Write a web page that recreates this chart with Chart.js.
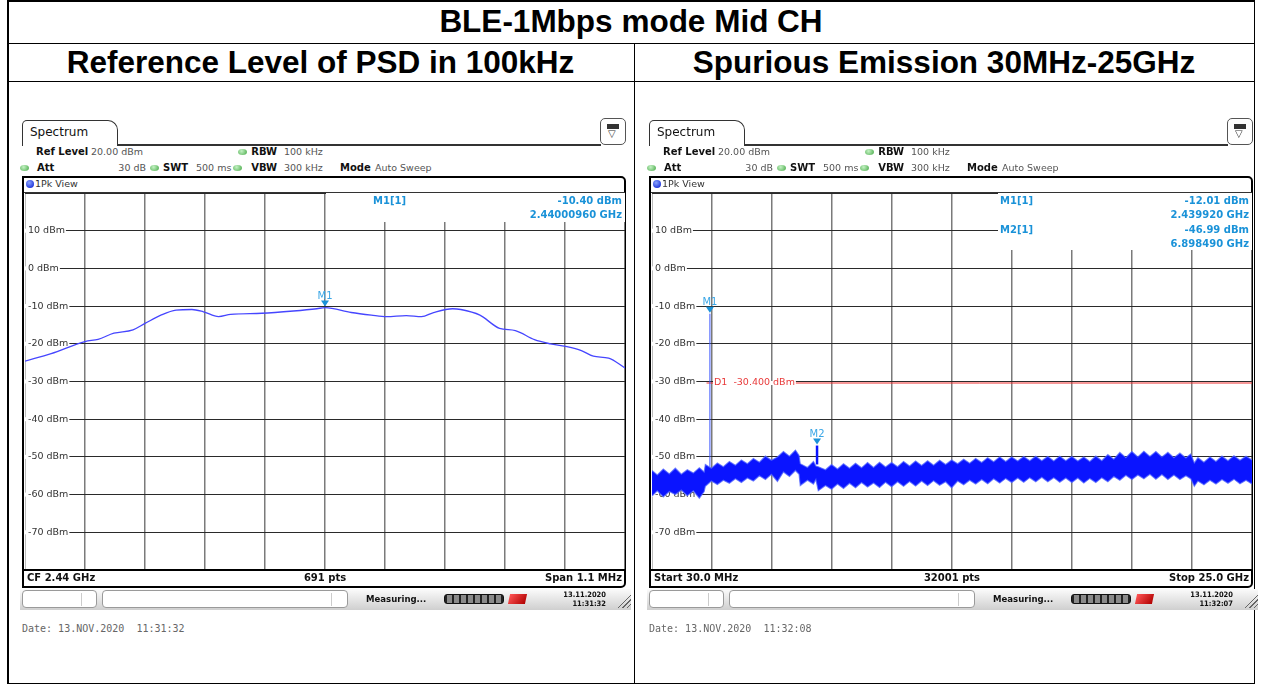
<!DOCTYPE html>
<html>
<head>
<meta charset="utf-8">
<script src="https://cdn.jsdelivr.net/npm/chart.js@4.4.1/dist/chart.umd.min.js"></script>
<style>
  body { margin: 0; background: #fff; }
  #page { position: relative; width: 1261px; height: 684px; overflow: hidden; font-family: "DejaVu Sans", Verdana, sans-serif; }
  .ln { position: absolute; background: #000; }
  .ttl { position: absolute; font-family: "Liberation Sans", Arial, sans-serif; font-weight: bold; font-size: 31.5px; line-height: 36px; text-align: center; color: #000; }
  .panel { position: absolute; top: 0; width: 640px; height: 684px; }
  .t { position: absolute; white-space: nowrap; font-size: 9.5px; line-height: 12px; color: #555; }
  .b { font-weight: bold; color: #111; font-size: 10px; }
  .tab { position: absolute; left: 22px; top: 120px; width: 96px; height: 26px; box-sizing: border-box; border: 1.5px solid #333; border-bottom: none; border-radius: 5px 10px 0 0; font-size: 12px; line-height: 22px; padding-left: 7px; color: #111; }
  .tabline { position: absolute; left: 117px; top: 144px; width: 484px; height: 1.5px; background: #333; }
  .icon { position: absolute; left: 600px; top: 118px; width: 26px; height: 27px; box-sizing: border-box; border: 1px solid #555; border-radius: 5px; }
  .icon i { position: absolute; left: 6px; top: 5px; width: 12px; height: 5px; background: #333; border: 1px solid #333; box-sizing: border-box; }
  .icon span { position: absolute; left: 7px; top: 10px; font-size: 10px; line-height: 10px; color: #333; }
  .gdot { position: absolute; width: 9px; height: 6px; border-radius: 50%; background: radial-gradient(circle at 40% 35%, #c4f2c4, #45a845); }
  .frame { position: absolute; left: 22px; top: 176px; width: 604px; height: 412px; box-sizing: border-box; border: 2px solid #000; border-radius: 0 5px 5px 0; }
  .bdot { position: absolute; left: 26px; top: 180px; width: 8px; height: 8px; border-radius: 50%; background: radial-gradient(circle at 40% 35%, #8aa4ff, #0014d0); }
  canvas { position: absolute; left: 25px; top: 193px; }
  .status { position: absolute; left: 20px; top: 589px; width: 611px; height: 21px; background: linear-gradient(#fbfbfb, #cfcfcf); }
  .sbox { position: absolute; top: 1px; height: 18px; box-sizing: border-box; background: #fff; border: 1px solid #9a9a9a; border-radius: 4px; }
  .sbox i { position: absolute; top: 2px; width: 1px; height: 13px; background: #ccc; }
  .prog { position: absolute; left: 424px; top: 5px; width: 60px; height: 10px; border-radius: 3px; background: repeating-linear-gradient(90deg, #222 0 2px, #8a8a8a 2px 7px); border: 1.5px solid #111; box-sizing: border-box; }
  .red { position: absolute; left: 489px; top: 5px; width: 17px; height: 10px; background: linear-gradient(120deg, #ff5555, #b00000); transform: skewX(-12deg); }
  .clk { position: absolute; left: 540px; top: 1px; width: 46px; font-family: "DejaVu Sans Condensed", "DejaVu Sans", sans-serif; font-weight: bold; font-size: 7.5px; line-height: 9px; text-align: right; color: #111; }
  .hatch { position: absolute; left: 597px; top: 4px; width: 14px; height: 15px; background: repeating-linear-gradient(135deg, transparent 0 2px, #666 2px 3px); clip-path: polygon(100% 0, 100% 100%, 0 100%); }
  .meas { position: absolute; left: 346px; top: 4px; font-family: "DejaVu Sans Condensed", "DejaVu Sans", sans-serif; font-weight: bold; font-size: 9.5px; line-height: 12px; color: #111; }
  .date { position: absolute; left: 22px; top: 623px; font-family: "DejaVu Sans Mono", monospace; font-size: 10px; line-height: 12px; color: #666; white-space: pre; }
</style>
</head>
<body>
<div id="page">
  <div class="ln" style="left:7px;top:0;width:1248px;height:1.5px"></div>
  <div class="ln" style="left:7px;top:42.5px;width:1248px;height:1.5px"></div>
  <div class="ln" style="left:7px;top:80.5px;width:1248px;height:1.5px"></div>
  <div class="ln" style="left:7px;top:682.5px;width:1248px;height:1.5px"></div>
  <div class="ln" style="left:7px;top:0;width:1.5px;height:684px"></div>
  <div class="ln" style="left:1253.5px;top:0;width:1.5px;height:684px"></div>
  <div class="ln" style="left:633.5px;top:43px;width:1.5px;height:641px"></div>
  <div class="ttl" style="left:7px;top:3px;width:1248px">BLE-1Mbps mode Mid CH</div>
  <div class="ttl" style="left:7px;top:44px;width:627px">Reference Level of PSD in 100kHz</div>
  <div class="ttl" style="left:634px;top:44px;width:620px">Spurious Emission 30MHz-25GHz</div>
  <div class="panel" id="p1" style="left:0"></div>
  <div class="panel" id="p2" style="left:627px"></div>
</div>
<script>
// 공통 축 (dBm)
const levelTicks = [20, 10, 0, -10, -20, -30, -40, -50, -60, -70, -80];
const levelLabelVals = [10, 0, -10, -20, -30, -40, -50, -60, -70];
const levelLabels = ["10 dBm", "0 dBm", "-10 dBm", "-20 dBm", "-30 dBm", "-40 dBm", "-50 dBm", "-60 dBm", "-70 dBm"];

// 왼쪽: PSD 100kHz, CF 2.44 GHz, span 1.1 MHz (x = CF 기준 kHz)
const psdTicksX = [-550, -440, -330, -220, -110, 0, 110, 220, 330, 440, 550];
const psdOffsetKHz = [-550, -502, -440, -416, -387, -352, -330, -301, -273, -244, -223, -195, -173, -116, -58, -15, 0, 48, 85, 113, 149, 177, 199, 234, 249, 284, 320, 349, 384, 413, 441, 470, 492, 520, 550];
const psdLevel = [-24.6, -22.6, -19.4, -18.8, -17.2, -16.3, -14.6, -12.4, -11.05, -10.9, -11.5, -12.8, -12.2, -11.9, -11.3, -10.7, -10.4, -11.7, -12.4, -12.8, -12.5, -12.8, -11.7, -10.7, -10.9, -12.4, -15.9, -16.5, -18.9, -20.0, -20.7, -21.8, -23.3, -23.8, -26.4];
const psdMarkerX = [0];
const psdMarkerY = [-10.40];

// 오른쪽: spurious 30 MHz ~ 25 GHz (x = GHz), 노이즈 밴드 위/아래 외곽
const spurTicksX = [0.03, 2.527, 5.024, 7.521, 10.018, 12.515, 15.012, 17.509, 20.006, 22.503, 25.0];
const spurFreq = [
  0.03, 0.25, 0.5, 0.75, 1.0, 1.25, 1.5, 1.75, 2.0, 2.2,
  2.25, 2.5, 2.75, 3.0, 3.25, 3.5, 3.75, 4.0, 4.25, 4.5,
  4.75, 5.0, 5.25, 5.5, 5.75, 6.0, 6.15, 6.2, 6.5, 6.75,
  6.85, 6.95, 7.25, 7.5, 7.75, 8.0, 8.25, 8.5, 8.75, 9.0,
  9.25, 9.5, 9.75, 10.0, 10.25, 10.5, 10.75, 11.0, 11.25, 11.5,
  11.75, 12.0, 12.25, 12.5, 12.75, 13.0, 13.25, 13.5, 13.75, 14.0,
  14.25, 14.5, 14.75, 15.0, 15.25, 15.5, 15.75, 16.0, 16.25, 16.5,
  16.75, 17.0, 17.25, 17.5, 17.75, 18.0, 18.25, 18.5, 18.75, 19.0,
  19.25, 19.5, 19.75, 20.0, 20.25, 20.5, 20.75, 21.0, 21.25, 21.5,
  21.75, 22.0, 22.25, 22.45, 22.6, 22.75, 23.0, 23.25, 23.5, 23.75,
  24.0, 24.25, 24.5, 24.75, 25.0];
const spurHigh = [
  -53.6, -54.8, -53.2, -54.5, -53.0, -54.6, -53.4, -54.3, -52.9, -54.0,
  -52.0, -53.0, -51.6, -52.6, -51.2, -52.2, -50.8, -51.8, -50.4, -51.4,
  -49.8, -50.9, -50.0, -48.6, -49.8, -48.2, -49.6, -51.8, -52.8, -51.2,
  -52.4, -52.6, -53.4, -52.0, -53.2, -51.8, -53.0, -51.7, -52.9, -51.5,
  -52.8, -51.4, -52.7, -51.5, -52.6, -51.2, -52.4, -51.1, -52.3, -51.0,
  -52.2, -50.9, -52.0, -50.8, -51.8, -50.6, -51.7, -50.4, -51.5, -50.2,
  -51.3, -50.0, -51.2, -50.0, -51.1, -49.9, -51.0, -49.8, -51.0, -49.9,
  -51.1, -49.8, -51.0, -49.9, -51.1, -50.0, -51.2, -49.8, -51.0, -49.4,
  -50.6, -48.8, -50.2, -48.6, -50.0, -48.5, -49.9, -48.6, -50.0, -48.8,
  -50.2, -49.0, -50.3, -49.2, -51.6, -50.2, -51.4, -50.0, -51.2, -49.8,
  -51.0, -49.7, -50.9, -49.8, -50.8];
const spurLow = [
  -60.4, -59.0, -60.6, -59.2, -60.0, -58.8, -60.3, -59.0, -61.0, -59.2,
  -57.8, -56.4, -57.3, -56.2, -57.0, -55.8, -56.8, -55.6, -56.4, -55.0,
  -56.0, -54.6, -56.5, -54.0, -55.2, -53.6, -54.6, -57.6, -56.2, -57.2,
  -56.0, -59.0, -57.6, -58.6, -57.2, -58.4, -57.0, -58.2, -56.8, -58.0,
  -56.9, -58.1, -56.7, -57.9, -56.6, -57.8, -56.5, -57.7, -56.4, -57.6,
  -56.3, -57.5, -56.6, -58.2, -56.4, -57.4, -56.2, -57.2, -56.0, -57.1,
  -55.8, -56.9, -55.7, -56.8, -55.6, -56.7, -55.5, -56.6, -55.4, -56.6,
  -55.5, -56.7, -55.6, -56.8, -55.6, -56.9, -55.7, -56.8, -55.5, -56.6,
  -55.2, -56.2, -54.9, -56.0, -54.8, -55.8, -54.6, -55.9, -54.7, -56.0,
  -54.8, -56.0, -55.0, -55.8, -57.8, -56.4, -57.4, -56.2, -57.2, -56.0,
  -57.0, -55.9, -57.1, -56.2, -57.2];
const spurMarkerX = [2.43992, 6.89849];
const spurMarkerY = [-12.01, -46.99];
const spikeBase = [-56.5, -52.0];
const d1Level = -30.4;
const d1Range = [2.3, 25.0];

function panelHtml(p) {
  return `
  <div class="tab">Spectrum</div><div class="tabline"></div>
  <div class="icon"><i></i><span>&#9661;</span></div>
  <div class="t b" style="left:36px;top:146px">Ref Level</div>
  <div class="t" style="left:91px;top:146px">20.00 dBm</div>
  <div class="gdot" style="left:238px;top:149px"></div>
  <div class="t b" style="left:227px;top:146px;width:50px;text-align:right">RBW</div>
  <div class="t" style="left:284px;top:146px">100 kHz</div>
  <div class="gdot" style="left:20px;top:165px"></div>
  <div class="t b" style="left:37px;top:162px">Att</div>
  <div class="t" style="left:100px;top:162px;width:46px;text-align:right">30 dB</div>
  <div class="gdot" style="left:150px;top:165px"></div>
  <div class="t b" style="left:163px;top:162px">SWT</div>
  <div class="t" style="left:196px;top:162px">500 ms</div>
  <div class="gdot" style="left:233px;top:165px"></div>
  <div class="t b" style="left:227px;top:162px;width:50px;text-align:right">VBW</div>
  <div class="t" style="left:284px;top:162px">300 kHz</div>
  <div class="t b" style="left:340px;top:162px">Mode</div>
  <div class="t" style="left:375px;top:162px">Auto Sweep</div>
  <div class="frame"></div>
  <div class="bdot"></div>
  <div class="t" style="left:35px;top:178px;color:#333">1Pk View</div>
  <div class="ln" style="left:24px;top:192px;width:601px;height:1px;background:#333"></div>
  <canvas id="${p.id}" width="600" height="377"></canvas>
  <div class="ln" style="left:24px;top:569px;width:601px;height:2px"></div>
  <div class="t b" style="left:27px;top:572px">${p.left}</div>
  <div class="t b" style="left:225px;top:572px;width:200px;text-align:center">${p.mid}</div>
  <div class="t b" style="left:422px;top:572px;width:200px;text-align:right">${p.right}</div>
  <div class="status">
    <div class="sbox" style="left:2px;width:75px"><i style="left:58px"></i></div>
    <div class="sbox" style="left:82px;width:246px"><i style="left:228px"></i></div>
    <div class="meas">Measuring...</div>
    <div class="prog"></div><div class="red"></div>
    <div class="clk">${p.clkDate}<br>${p.clkTime}</div>
    <div class="hatch"></div>
  </div>
  <div class="date">Date: ${p.date}</div>`;
}

document.getElementById("p1").innerHTML = panelHtml({ id: "psdChart", left: "CF 2.44 GHz", mid: "691 pts", right: "Span 1.1 MHz", clkDate: "13.11.2020", clkTime: "11:31:32", date: "13.NOV.2020  11:31:32" });
document.getElementById("p2").innerHTML = panelHtml({ id: "spurChart", left: "Start 30.0 MHz", mid: "32001 pts", right: "Stop 25.0 GHz", clkDate: "13.11.2020", clkTime: "11:32:07", date: "13.NOV.2020  11:32:08" });

const markerBlue = "#1a92d8";

// 격자 위에 라벨/마커 정보, 데이터 위에 마커 삼각형
const decoPlugin = {
  id: "deco",
  beforeDatasetsDraw(chart, args, o) {
    const ctx = chart.ctx;
    const ys = chart.scales.y;
    ctx.save();
    ctx.fillStyle = "#fff";
    ctx.fillRect(o.infoBox[0], o.infoBox[1], o.infoBox[2], o.infoBox[3]);
    ctx.font = "9.5px 'DejaVu Sans'";
    ctx.textBaseline = "middle";
    levelLabels.forEach((txt, i) => {
      const py = ys.getPixelForValue(levelLabelVals[i]);
      const w = ctx.measureText(txt).width;
      ctx.fillStyle = "#fff";
      ctx.fillRect(0, py - 2, w + 4, 4);
      ctx.fillStyle = "#333";
      ctx.fillText(txt, 3, py);
    });
    ctx.font = "bold 10px 'DejaVu Sans'";
    ctx.fillStyle = markerBlue;
    o.info.forEach((row) => {
      ctx.textAlign = "left";
      if (row[0]) ctx.fillText(row[0], 348, row[2]);
      ctx.textAlign = "right";
      ctx.fillText(row[1], 597, row[2]);
    });
    ctx.restore();
  },
  afterDatasetsDraw(chart, args, o) {
    const ctx = chart.ctx;
    const xs = chart.scales.x;
    const ys = chart.scales.y;
    ctx.save();
    if (o.d1) {
      const py = ys.getPixelForValue(d1Level);
      ctx.font = "9.5px 'DejaVu Sans'";
      ctx.textBaseline = "middle";
      const txt = "D1  -30.400 dBm";
      const w = ctx.measureText(txt).width;
      ctx.fillStyle = "#fff";
      ctx.fillRect(61, py - 2, w + 2, 4);
      ctx.fillStyle = "#e83a3a";
      ctx.fillText(txt, 62, py);
    }
    o.mx.forEach((mx, i) => {
      const px = xs.getPixelForValue(mx);
      const py = ys.getPixelForValue(o.my[i]);
      ctx.fillStyle = markerBlue;
      ctx.beginPath();
      ctx.moveTo(px, py - 1);
      ctx.lineTo(px - 4, py - 7);
      ctx.lineTo(px + 4, py - 7);
      ctx.closePath();
      ctx.fill();
      ctx.fillStyle = "#3aa6e6";
      ctx.font = "10px 'DejaVu Sans'";
      ctx.textAlign = "center";
      ctx.textBaseline = "alphabetic";
      ctx.fillText("M" + (i + 1), px, py - 9);
    });
    ctx.restore();
  },
};

function makeChart(id, datasets, xTicks, deco) {
  return new Chart(document.getElementById(id).getContext("2d"), {
    type: "line",
    data: { datasets: datasets },
    options: {
      responsive: false,
      animation: false,
      events: [],
      layout: { padding: 0 },
      elements: { point: { radius: 0 } },
      plugins: { legend: { display: false }, tooltip: { enabled: false }, deco: deco },
      scales: {
        x: {
          type: "linear",
          min: xTicks[0],
          max: xTicks[xTicks.length - 1],
          afterBuildTicks: (ax) => { ax.ticks = xTicks.map((v) => ({ value: v })); },
          ticks: { display: false },
          grid: { color: "#7a7a7a", lineWidth: 1.5, drawTicks: false },
          border: { display: false },
        },
        y: {
          min: -80,
          max: 20,
          afterBuildTicks: (ax) => { ax.ticks = levelTicks.map((v) => ({ value: v })); },
          ticks: { display: false },
          grid: { color: "#2a2a2a", lineWidth: 1, drawTicks: false },
          border: { display: false },
        },
      },
    },
    plugins: [decoPlugin],
  });
}

makeChart("psdChart", [
  {
    data: psdOffsetKHz.map((x, i) => ({ x: x, y: psdLevel[i] })),
    borderColor: "rgb(70, 70, 255)",
    borderWidth: 1.3,
    cubicInterpolationMode: "monotone",
  },
], psdTicksX, {
  infoBox: [301, 0, 300, 29],
  info: [["M1[1]", "-10.40 dBm", 8], ["", "2.44000960 GHz", 22]],
  mx: psdMarkerX, my: psdMarkerY,
});

makeChart("spurChart", [
  {
    data: spurFreq.map((x, i) => ({ x: x, y: spurLow[i] })),
    borderColor: "rgba(80, 100, 255, 0.75)",
    borderWidth: 1.2,
    fill: false,
  },
  {
    data: spurFreq.map((x, i) => ({ x: x, y: spurHigh[i] })),
    borderColor: "rgba(80, 100, 255, 0.75)",
    borderWidth: 1.2,
    fill: "-1",
    backgroundColor: "#0a14ff",
  },
  {
    data: [{ x: spurMarkerX[0], y: spikeBase[0] }, { x: spurMarkerX[0], y: spurMarkerY[0] }],
    borderColor: "#3a55ff",
    borderWidth: 1,
  },
  {
    data: [{ x: spurMarkerX[1], y: spikeBase[1] }, { x: spurMarkerX[1], y: spurMarkerY[1] }],
    borderColor: "#0a14ff",
    borderWidth: 2.5,
  },
  {
    data: [{ x: d1Range[0], y: d1Level }, { x: d1Range[1], y: d1Level }],
    borderColor: "#f03030",
    borderWidth: 1,
  },
], spurTicksX, {
  infoBox: [346, 0, 255, 57],
  info: [["M1[1]", "-12.01 dBm", 8], ["", "2.439920 GHz", 22], ["M2[1]", "-46.99 dBm", 37], ["", "6.898490 GHz", 51]],
  mx: spurMarkerX, my: spurMarkerY, d1: true,
});
</script>
</body>
</html>
